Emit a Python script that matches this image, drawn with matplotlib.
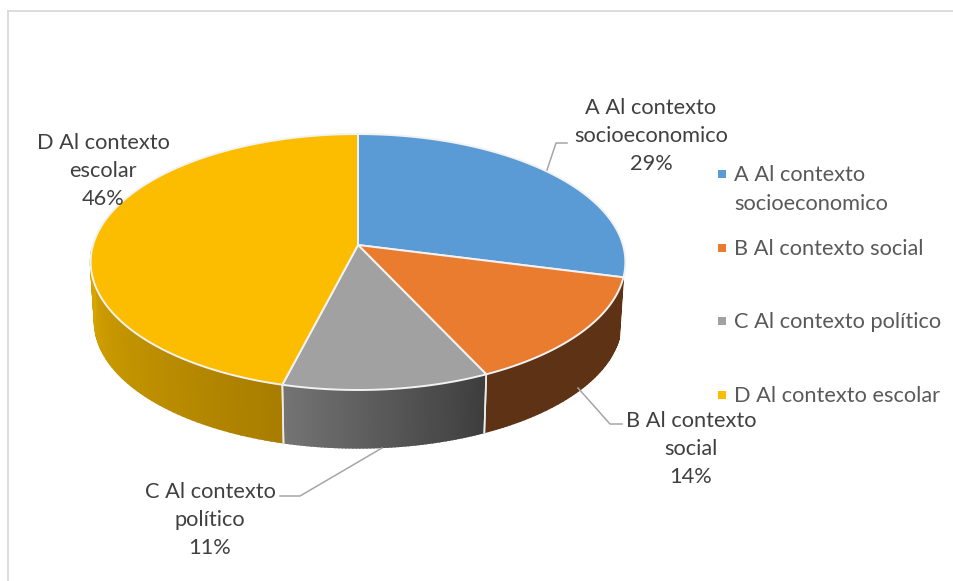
import numpy as np
import matplotlib
matplotlib.use("Agg")
import matplotlib.pyplot as plt
from matplotlib.colors import to_rgb

plt.rcParams['font.family'] = ['Lato', 'DejaVu Sans']

labels = ["A Al contexto\nsocioeconomico", "B Al contexto\nsocial", "C Al contexto\npolítico", "D Al contexto\nescolar"]
legend_labels = ["A Al contexto\nsocioeconomico", "B Al contexto social", "C Al contexto político", "D Al contexto escolar"]
values = [29, 14, 11, 46]
colors = ["#5b9bd5", "#ea7c30", "#a1a1a1", "#fcbd00"]
wall_left = ["#5b9bd5", "#5e3214", "#747474", "#d9a600"]
wall_right = ["#5b9bd5", "#5e3214", "#3d3d3d", "#a87d00"]

# pie geometry, pixels
cx, cy = 358, 245
rx, ry = 265, 125.7
persp = 0.133
depth = 60
shrink = 0.985


def rim(theta):
    # theta in radians, clockwise from the top, with a bit of perspective
    u, v = np.sin(theta), np.cos(theta)
    d = 1 + persp * v
    return cx + rx * u / d, cy - ry * v / d


def lerp(c1, c2, t):
    a, b = np.array(to_rgb(c1)), np.array(to_rgb(c2))
    return tuple(a + (b - a) * t)


fig = plt.figure(figsize=(9.54, 5.81), dpi=100)
ax = fig.add_axes([0, 0, 1, 1])
ax.set_xlim(0, 954)
ax.set_ylim(581, 0)
ax.axis("off")

# chart frame (only top and left are visible)
ax.plot([8, 954], [11, 11], color="#d9d9d9", lw=1.3)
ax.plot([8, 8], [11, 581], color="#d9d9d9", lw=1.3)

edges = np.cumsum([0] + values) / sum(values) * 2 * np.pi

# side walls first, the top covers whatever is behind
for i in range(len(values)):
    t0 = max(edges[i], np.radians(105))
    t1 = min(edges[i + 1], np.radians(268))
    if t1 <= t0:
        continue
    ts = np.linspace(t0, t1, 60)
    for j in range(len(ts) - 1):
        xa, ya = rim(ts[j])
        xb, yb = rim(ts[j + 1])
        xa2 = cx + (xa - cx) * shrink
        xb2 = cx + (xb - cx) * shrink
        ya2 = cy + (ya - cy) * shrink + depth
        yb2 = cy + (yb - cy) * shrink + depth
        # going clockwise on the front means right to left
        f = 1 - (j + 0.5) / (len(ts) - 1)
        c = lerp(wall_left[i], wall_right[i], f)
        ax.fill([xa, xb, xb2, xa2], [ya, yb, yb2, ya2], color=c, lw=1.2)
    # white seam at the slice edges on the front
    for t in (edges[i], edges[i + 1]):
        if np.radians(120) < t < np.radians(240):
            x, y = rim(t)
            ax.plot([x, cx + (x - cx) * shrink], [y, cy + (y - cy) * shrink + depth], color="#ececec", lw=1.2)

# top of the pie
for i in range(len(values)):
    ts = np.linspace(edges[i], edges[i + 1], 150)
    xs, ys = rim(ts)
    ax.fill(np.r_[cx, xs], np.r_[cy, ys], facecolor=colors[i], edgecolor="#f2f2f2", lw=1.4, joinstyle="round")

# leader lines
leader_color = "#a6a6a6"
ax.plot([547, 556, 567], [170, 143, 143], color=leader_color, lw=1.1)
ax.plot([578, 610, 622], [388, 424, 424], color=leader_color, lw=1.1)
ax.plot([382, 300, 280], [448, 496, 496], color=leader_color, lw=1.1)

# data labels
label_pos = [(651, 136), (691, 449), (210, 520), (103, 171)]
for name, val, (x, y) in zip(labels, values, label_pos):
    ax.text(x, y, f"{name}\n{val}%", ha="center", va="center", fontsize=15.7, color="#404040", linespacing=1.53)

# legend
legend_y = [175, 249, 322, 396]
for name, col, y in zip(legend_labels, colors, legend_y):
    ax.scatter([722], [y - 1], marker="s", s=30, color=col, linewidths=0)
    offset = 14.5 if "\n" in name else 0
    ax.text(734, y + offset, name, ha="left", va="center", fontsize=15.7, color="#595959", linespacing=1.53)

fig.savefig("out.png", dpi=100)
